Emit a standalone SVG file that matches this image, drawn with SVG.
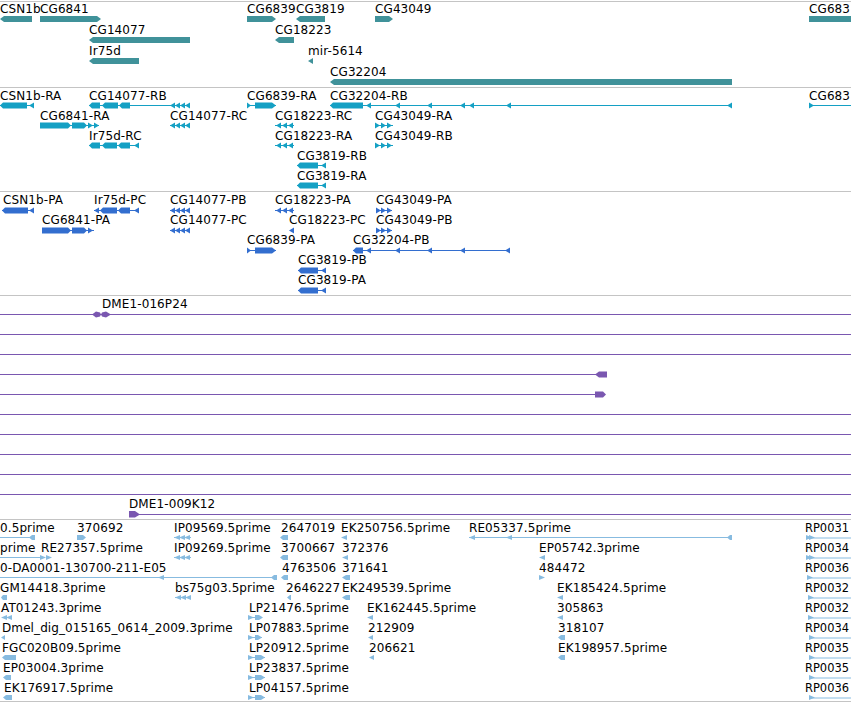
<svg xmlns="http://www.w3.org/2000/svg" xmlns:xlink="http://www.w3.org/1999/xlink" width="851" height="703" viewBox="0 0 851 703">
<style>
text{font-family:"DejaVu Sans",sans-serif;font-size:12px;fill:#000;letter-spacing:0.1px}
text.rp{letter-spacing:0}
.sep{stroke:#c4c4c4;stroke-width:1}
.f1{fill:#40929a}
.f2{fill:#14a0c4}
.l2{stroke:#14a0c4;stroke-width:1}
.f3{fill:#336ecf}
.l3{stroke:#336ecf;stroke-width:1}
.f4{fill:#7a57b0}
.l4{stroke:#7a57b0;stroke-width:1}
.f5{fill:#87bbe0}
.l5{stroke:#87bbe0;stroke-width:1}
</style>
<defs>
<path id="tl" d="M0,3 L5,0 L5,6 Z"/>
<path id="tr" d="M5,3 L0,0 L0,6 Z"/>
<path id="sl" d="M0,2.5 L6,0 L6,5 Z"/>
<path id="sr" d="M6,2.5 L0,0 L0,5 Z"/>
</defs>
<rect width="851" height="703" fill="#fff"/>
<g id="separators">
<line class="sep" x1="0" y1="1.5" x2="851" y2="1.5"/>
<line class="sep" x1="0" y1="87.5" x2="851" y2="87.5"/>
<line class="sep" x1="0" y1="191.5" x2="851" y2="191.5"/>
<line class="sep" x1="0" y1="295.5" x2="851" y2="295.5"/>
<line class="sep" x1="0" y1="519.5" x2="851" y2="519.5"/>
<line class="sep" x1="0" y1="701.5" x2="851" y2="701.5"/>
</g>

<g id="track-genes" class="f1">
<g id="g-CSN1b"><text x="0" y="13">CSN1b</text><polygon points="0,19 4,16 32,16 32,22 4,22"/></g>
<g id="g-CG6841"><text x="40" y="13">CG6841</text><polygon points="40,16 97,16 101,19 97,22 40,22"/></g>
<g id="g-CG6839"><text x="247" y="13">CG6839</text><polygon points="247,16 272,16 276,19 272,22 247,22"/></g>
<g id="g-CG3819"><text x="296" y="13">CG3819</text><polygon points="296,19 300,16 325,16 325,22 300,22"/></g>
<g id="g-CG43049"><text x="375" y="13">CG43049</text><polygon points="375,16 389,16 393,19 389,22 375,22"/></g>
<g id="g-CG683"><text x="809" y="13">CG683</text><rect x="809" y="16" width="42" height="6"/></g>
<g id="g-CG14077"><text x="89" y="34">CG14077</text><polygon points="89,40 93,37 190,37 190,43 93,43"/></g>
<g id="g-CG18223"><text x="275" y="34">CG18223</text><polygon points="275,40 279,37 294,37 294,43 279,43"/></g>
<g id="g-Ir75d"><text x="89" y="55">Ir75d</text><polygon points="89,61 93,58 139,58 139,64 93,64"/></g>
<g id="g-mir5614"><text x="308" y="55">mir-5614</text><polygon points="308,61 313,58 313,64"/></g>
<g id="g-CG32204"><text x="330" y="76">CG32204</text><polygon points="330,82 334,79 732,79 732,85 334,85"/></g>
</g>

<g id="track-transcripts" class="f2">
<g id="t-CSN1b-RA"><text x="0" y="100">CSN1b-RA</text><line class="l2" x1="0" y1="105.5" x2="34" y2="105.5"/><polygon points="0,105.5 3,102.5 27,102.5 27,108.5 3,108.5"/><use xlink:href="#tl" x="29" y="102.5"/></g>
<g id="t-CG14077-RB"><text x="89" y="100">CG14077-RB</text><line class="l2" x1="89" y1="105.5" x2="190" y2="105.5"/><polygon points="89,105.5 92,102.5 100,102.5 100,108.5 92,108.5"/><polygon points="102,105.5 105,102.5 118,102.5 118,108.5 105,108.5"/><polygon points="119,105.5 122,102.5 130,102.5 130,108.5 122,108.5"/><use xlink:href="#tl" x="170" y="102.5"/><use xlink:href="#tl" x="175" y="102.5"/><use xlink:href="#tl" x="180" y="102.5"/><use xlink:href="#tl" x="185" y="102.5"/></g>
<g id="t-CG6839-RA"><text x="247" y="100">CG6839-RA</text><line class="l2" x1="247" y1="105.5" x2="276" y2="105.5"/><polygon points="247,102.5 251,105.5 247,108.5"/><polygon points="255,102.5 272,102.5 276,105.5 272,108.5 255,108.5"/></g>
<g id="t-CG32204-RB"><text x="330" y="100">CG32204-RB</text><line class="l2" x1="330" y1="105.5" x2="732" y2="105.5"/><polygon points="330,105.5 333,102.5 363,102.5 363,108.5 333,108.5"/><use xlink:href="#tl" x="366" y="102.5"/><use xlink:href="#tl" x="395" y="102.5"/><use xlink:href="#tl" x="427" y="102.5"/><use xlink:href="#tl" x="460" y="102.5"/><use xlink:href="#tl" x="469" y="102.5"/><use xlink:href="#tl" x="506" y="102.5"/><use xlink:href="#tl" x="727" y="102.5"/></g>
<g id="t-CG683-R"><text x="809" y="100">CG683</text><line class="l2" x1="809" y1="105.5" x2="851" y2="105.5"/><use xlink:href="#tr" x="809" y="102.5"/></g>

<g id="t-CG6841-RA"><text x="40" y="120">CG6841-RA</text><line class="l2" x1="40" y1="125.5" x2="99" y2="125.5"/><polygon points="40,122.5 68,122.5 71,125.5 68,128.5 40,128.5"/><polygon points="72,122.5 84,122.5 87,125.5 84,128.5 72,128.5"/><use xlink:href="#tr" x="88" y="122.5"/><use xlink:href="#tr" x="94" y="122.5"/></g>
<g id="t-CG14077-RC"><text x="170" y="120">CG14077-RC</text><line class="l2" x1="170" y1="125.5" x2="190" y2="125.5"/><use xlink:href="#tl" x="170" y="122.5"/><use xlink:href="#tl" x="175" y="122.5"/><use xlink:href="#tl" x="180" y="122.5"/><use xlink:href="#tl" x="185" y="122.5"/></g>
<g id="t-CG18223-RC"><text x="275" y="120">CG18223-RC</text><line class="l2" x1="275" y1="125.5" x2="294" y2="125.5"/><use xlink:href="#tl" x="276" y="122.5"/><use xlink:href="#tl" x="282" y="122.5"/><use xlink:href="#tl" x="288" y="122.5"/></g>
<g id="t-CG43049-RA"><text x="375" y="120">CG43049-RA</text><line class="l2" x1="375" y1="125.5" x2="393" y2="125.5"/><use xlink:href="#tr" x="375" y="122.5"/><use xlink:href="#tr" x="381" y="122.5"/><use xlink:href="#tr" x="387" y="122.5"/></g>

<g id="t-Ir75d-RC"><text x="89" y="140">Ir75d-RC</text><line class="l2" x1="89" y1="145.5" x2="139" y2="145.5"/><polygon points="89,145.5 92,142.5 100,142.5 100,148.5 92,148.5"/><polygon points="102,145.5 105,142.5 117,142.5 117,148.5 105,148.5"/><polygon points="118,145.5 121,142.5 130,142.5 130,148.5 121,148.5"/><use xlink:href="#tl" x="134" y="142.5"/></g>
<g id="t-CG18223-RA"><text x="275" y="140">CG18223-RA</text><line class="l2" x1="275" y1="145.5" x2="294" y2="145.5"/><use xlink:href="#tl" x="276" y="142.5"/><use xlink:href="#tl" x="282" y="142.5"/><use xlink:href="#tl" x="288" y="142.5"/></g>
<g id="t-CG43049-RB"><text x="375" y="140">CG43049-RB</text><line class="l2" x1="375" y1="145.5" x2="393" y2="145.5"/><use xlink:href="#tr" x="375" y="142.5"/><use xlink:href="#tr" x="381" y="142.5"/><use xlink:href="#tr" x="387" y="142.5"/></g>

<g id="t-CG3819-RB"><text x="297" y="160">CG3819-RB</text><line class="l2" x1="297" y1="165.5" x2="326" y2="165.5"/><polygon points="297,165.5 300,162.5 318,162.5 318,168.5 300,168.5"/><use xlink:href="#tl" x="321" y="162.5"/></g>
<g id="t-CG3819-RA"><text x="297" y="180">CG3819-RA</text><line class="l2" x1="297" y1="185.5" x2="326" y2="185.5"/><polygon points="297,185.5 300,182.5 318,182.5 318,188.5 300,188.5"/><use xlink:href="#tl" x="321" y="182.5"/></g>
</g>

<g id="track-proteins" class="f3">
<g id="p-CSN1b-PA"><text x="3" y="204">CSN1b-PA</text><line class="l3" x1="2" y1="210.5" x2="34" y2="210.5"/><polygon points="2,210.5 5,207.5 28,207.5 28,213.5 5,213.5"/><use xlink:href="#tl" x="29" y="207.5"/></g>
<g id="p-Ir75d-PC"><text x="94" y="204">Ir75d-PC</text><line class="l3" x1="94" y1="210.5" x2="139" y2="210.5"/><use xlink:href="#tl" x="94" y="207.5"/><polygon points="100,210.5 103,207.5 117,207.5 117,213.5 103,213.5"/><polygon points="118,210.5 121,207.5 130,207.5 130,213.5 121,213.5"/><use xlink:href="#tl" x="134" y="207.5"/></g>
<g id="p-CG14077-PB"><text x="170" y="204">CG14077-PB</text><line class="l3" x1="170" y1="210.5" x2="190" y2="210.5"/><use xlink:href="#tl" x="170" y="207.5"/><use xlink:href="#tl" x="175" y="207.5"/><use xlink:href="#tl" x="180" y="207.5"/><use xlink:href="#tl" x="185" y="207.5"/></g>
<g id="p-CG18223-PA"><text x="275" y="204">CG18223-PA</text><line class="l3" x1="275" y1="210.5" x2="294" y2="210.5"/><use xlink:href="#tl" x="276" y="207.5"/><use xlink:href="#tl" x="282" y="207.5"/><use xlink:href="#tl" x="288" y="207.5"/></g>
<g id="p-CG43049-PA"><text x="376" y="204">CG43049-PA</text><line class="l3" x1="376" y1="210.5" x2="392" y2="210.5"/><use xlink:href="#tr" x="376" y="207.5"/><use xlink:href="#tr" x="381" y="207.5"/><use xlink:href="#tr" x="387" y="207.5"/></g>

<g id="p-CG6841-PA"><text x="42" y="224">CG6841-PA</text><line class="l3" x1="42" y1="230.5" x2="94" y2="230.5"/><polygon points="42,227.5 68,227.5 71,230.5 68,233.5 42,233.5"/><polygon points="72,227.5 84,227.5 87,230.5 84,233.5 72,233.5"/><use xlink:href="#tr" x="88" y="227.5"/></g>
<g id="p-CG14077-PC"><text x="170" y="224">CG14077-PC</text><line class="l3" x1="170" y1="230.5" x2="190" y2="230.5"/><use xlink:href="#tl" x="170" y="227.5"/><use xlink:href="#tl" x="175" y="227.5"/><use xlink:href="#tl" x="180" y="227.5"/><use xlink:href="#tl" x="185" y="227.5"/></g>
<g id="p-CG18223-PC"><text x="289" y="224">CG18223-PC</text><use xlink:href="#tl" x="289" y="227.5"/></g>
<g id="p-CG43049-PB"><text x="376" y="224">CG43049-PB</text><line class="l3" x1="376" y1="230.5" x2="392" y2="230.5"/><use xlink:href="#tr" x="376" y="227.5"/><use xlink:href="#tr" x="381" y="227.5"/><use xlink:href="#tr" x="387" y="227.5"/></g>

<g id="p-CG6839-PA"><text x="247" y="244">CG6839-PA</text><line class="l3" x1="247" y1="250.5" x2="276" y2="250.5"/><polygon points="247,247.5 251,250.5 247,253.5"/><polygon points="255,247.5 272,247.5 276,250.5 272,253.5 255,253.5"/></g>
<g id="p-CG32204-PB"><text x="353" y="244">CG32204-PB</text><line class="l3" x1="353" y1="250.5" x2="510" y2="250.5"/><polygon points="353,250.5 356,247.5 363,247.5 363,253.5 356,253.5"/><use xlink:href="#tl" x="366" y="247.5"/><use xlink:href="#tl" x="395" y="247.5"/><use xlink:href="#tl" x="427" y="247.5"/><use xlink:href="#tl" x="460" y="247.5"/><use xlink:href="#tl" x="505" y="247.5"/></g>

<g id="p-CG3819-PB"><text x="298" y="264">CG3819-PB</text><line class="l3" x1="298" y1="270.5" x2="326" y2="270.5"/><polygon points="298,270.5 301,267.5 318,267.5 318,273.5 301,273.5"/><use xlink:href="#tl" x="321" y="267.5"/></g>
<g id="p-CG3819-PA"><text x="298" y="284">CG3819-PA</text><line class="l3" x1="298" y1="290.5" x2="326" y2="290.5"/><polygon points="298,290.5 301,287.5 318,287.5 318,293.5 301,293.5"/><use xlink:href="#tl" x="321" y="287.5"/></g>
</g>

<g id="track-clones" class="f4">
<g id="c-DME1-016P24"><text x="102" y="307.5">DME1-016P24</text><line class="l4" x1="0" y1="314.5" x2="851" y2="314.5"/><polygon points="92,314.5 96,311.5 100,312.5 101,314.5 100,316.5 96,317.5"/><polygon points="101,314.5 102,312.5 106,311.5 111,314.5 106,317.5 102,316.5"/></g>
<g id="c-row2"><line class="l4" x1="0" y1="334.5" x2="851" y2="334.5"/></g>
<g id="c-row3"><line class="l4" x1="0" y1="354.5" x2="851" y2="354.5"/></g>
<g id="c-row4"><line class="l4" x1="0" y1="374.5" x2="598" y2="374.5"/><polygon points="595,374.5 599,371.5 607,371.5 607,377.5 599,377.5"/></g>
<g id="c-row5"><line class="l4" x1="0" y1="394.5" x2="598" y2="394.5"/><polygon points="595,391.5 603,391.5 606,394.5 603,397.5 595,397.5"/></g>
<g id="c-row6"><line class="l4" x1="0" y1="414.5" x2="851" y2="414.5"/></g>
<g id="c-row7"><line class="l4" x1="0" y1="434.5" x2="851" y2="434.5"/></g>
<g id="c-row8"><line class="l4" x1="0" y1="454.5" x2="851" y2="454.5"/></g>
<g id="c-row9"><line class="l4" x1="0" y1="474.5" x2="851" y2="474.5"/></g>
<g id="c-row10"><line class="l4" x1="0" y1="494.5" x2="851" y2="494.5"/></g>
<g id="c-DME1-009K12"><text x="129" y="507.5">DME1-009K12</text><line class="l4" x1="135" y1="514.5" x2="851" y2="514.5"/><polygon points="129,511 135,511 140,514.5 135,517.5 129,517.5"/></g>
</g>

<g id="track-ests" class="f5">
<g id="e-0.5prime"><text x="0" y="532">0.5prime</text><line class="l5" x1="0" y1="537.5" x2="30" y2="537.5"/><polygon points="29,537.5 32,535 35,535 35,540 32,540"/></g>
<g id="e-370692"><text x="77" y="532">370692</text><polygon points="77,535 83,535 86,537.5 83,540 77,540"/></g>
<g id="e-IP09569"><text x="174" y="532">IP09569.5prime</text><line class="l5" x1="174" y1="537.5" x2="191" y2="537.5"/><use xlink:href="#sl" x="174" y="535"/><use xlink:href="#sl" x="179" y="535"/><use xlink:href="#sl" x="184" y="535"/></g>
<g id="e-2647019"><text x="281" y="532">2647019</text><polygon points="280,537.5 283,535 288,535 288,540 283,540"/></g>
<g id="e-EK250756"><text x="341" y="532">EK250756.5prime</text><use xlink:href="#sl" x="341" y="535"/></g>
<g id="e-RE05337"><text x="469" y="532">RE05337.5prime</text><line class="l5" x1="469" y1="537.5" x2="732" y2="537.5"/><use xlink:href="#sl" x="469" y="535"/><use xlink:href="#sl" x="506" y="535"/><polygon points="727,537.5 730,535 732,535 732,540 730,540"/></g>
<g id="e-RP0031"><text class="rp" x="805" y="532" textLength="44" lengthAdjust="spacingAndGlyphs">RP0031</text><line class="l5" x1="806" y1="538" x2="851" y2="538"/><use xlink:href="#sr" x="806" y="535"/><use xlink:href="#sr" x="809" y="535"/></g>

<g id="e-prime"><text x="0" y="552">prime</text><line class="l5" x1="0" y1="557.5" x2="44" y2="557.5"/><use xlink:href="#sr" x="40" y="555"/><use xlink:href="#sr" x="46" y="555"/></g>
<g id="e-RE27357"><text x="41" y="552">RE27357.5prime</text></g>
<g id="e-IP09269"><text x="174" y="552">IP09269.5prime</text><line class="l5" x1="174" y1="557.5" x2="191" y2="557.5"/><use xlink:href="#sl" x="174" y="555"/><use xlink:href="#sl" x="179" y="555"/><use xlink:href="#sl" x="184" y="555"/></g>
<g id="e-3700667"><text x="281" y="552">3700667</text><polygon points="280,557.5 283,555 288,555 288,560 283,560"/></g>
<g id="e-372376"><text x="342" y="552">372376</text><use xlink:href="#sl" x="342" y="555"/></g>
<g id="e-EP05742"><text x="539" y="552">EP05742.3prime</text><use xlink:href="#sl" x="539" y="555"/></g>
<g id="e-RP0034a"><text class="rp" x="805" y="552" textLength="44" lengthAdjust="spacingAndGlyphs">RP0034</text><line class="l5" x1="806" y1="558" x2="851" y2="558"/><use xlink:href="#sr" x="806" y="555"/><use xlink:href="#sr" x="809" y="555"/></g>

<g id="e-DA0001"><text x="0" y="572">0-DA0001-130700-211-E05</text><line class="l5" x1="0" y1="577.5" x2="276" y2="577.5"/><use xlink:href="#sl" x="158" y="575"/><polygon points="271,577.5 274,575 277,575 277,580 274,580"/></g>
<g id="e-4763506"><text x="282" y="572">4763506</text><polygon points="281,577.5 284,575 288,575 288,580 284,580"/></g>
<g id="e-371641"><text x="342" y="572">371641</text><polygon points="342,577.5 346,575 350,575 350,580 346,580"/></g>
<g id="e-484472"><text x="539" y="572">484472</text><use xlink:href="#sr" x="539" y="575"/></g>
<g id="e-RP0036a"><text class="rp" x="805" y="572" textLength="44" lengthAdjust="spacingAndGlyphs">RP0036</text><line class="l5" x1="807" y1="578" x2="851" y2="578"/><use xlink:href="#sr" x="807" y="575"/></g>

<g id="e-GM14418"><text x="0" y="592">GM14418.3prime</text><polygon points="1,597.5 3,595 7,595 7,600 3,600"/></g>
<g id="e-bs75g03"><text x="175" y="592">bs75g03.5prime</text><line class="l5" x1="175" y1="597.5" x2="191" y2="597.5"/><use xlink:href="#sl" x="175" y="595"/><use xlink:href="#sl" x="180" y="595"/><use xlink:href="#sl" x="185" y="595"/></g>
<g id="e-2646227"><text x="286" y="592">2646227</text><polygon points="287,597.5 290,595 291,595 291,600 290,600"/></g>
<g id="e-EK249539"><text x="342" y="592">EK249539.5prime</text><polygon points="342,597.5 346,595 350,595 350,600 346,600"/></g>
<g id="e-EK185424"><text x="557" y="592">EK185424.5prime</text><use xlink:href="#sl" x="557" y="595"/></g>
<g id="e-RP0032a"><text class="rp" x="805" y="592" textLength="44" lengthAdjust="spacingAndGlyphs">RP0032</text><line class="l5" x1="808" y1="598" x2="851" y2="598"/><use xlink:href="#sr" x="808" y="595"/></g>

<g id="e-AT01243"><text x="1" y="612">AT01243.3prime</text><use xlink:href="#sl" x="1" y="615"/><use xlink:href="#sl" x="6" y="615"/></g>
<g id="e-LP21476"><text x="249" y="612">LP21476.5prime</text><line class="l5" x1="248" y1="617.5" x2="262" y2="617.5"/><use xlink:href="#sr" x="248" y="615"/><polygon points="255,615 259,615 263,617.5 259,620 255,620"/></g>
<g id="e-EK162445"><text x="367" y="612">EK162445.5prime</text><use xlink:href="#sl" x="367" y="615"/></g>
<g id="e-305863"><text x="557" y="612">305863</text><use xlink:href="#sl" x="557" y="615"/></g>
<g id="e-RP0032b"><text class="rp" x="805" y="612" textLength="44" lengthAdjust="spacingAndGlyphs">RP0032</text><line class="l5" x1="808" y1="618" x2="851" y2="618"/><use xlink:href="#sr" x="808" y="615"/></g>

<g id="e-Dmel-dig"><text x="2" y="632">Dmel_dig_015165_0614_2009.3prime</text><polygon points="1,637.5 5,635 5,640"/></g>
<g id="e-LP07883"><text x="249" y="632">LP07883.5prime</text><line class="l5" x1="248" y1="637.5" x2="262" y2="637.5"/><use xlink:href="#sr" x="248" y="635"/><polygon points="255,635 258,635 262,637.5 258,640 255,640"/></g>
<g id="e-212909"><text x="368" y="632">212909</text><polygon points="368,637.5 373,635 373,640"/></g>
<g id="e-318107"><text x="558" y="632">318107</text><polygon points="558,637.5 561,635 565,635 565,640 561,640"/></g>
<g id="e-RP0034b"><text class="rp" x="805" y="632" textLength="44" lengthAdjust="spacingAndGlyphs">RP0034</text><line class="l5" x1="809" y1="638" x2="851" y2="638"/><use xlink:href="#sr" x="809" y="635"/></g>

<g id="e-FGC020B09"><text x="2" y="652">FGC020B09.5prime</text><polygon points="2,657.5 5,655 16,655 16,660 5,660"/></g>
<g id="e-LP20912"><text x="249" y="652">LP20912.5prime</text><line class="l5" x1="248" y1="657.5" x2="265" y2="657.5"/><use xlink:href="#sr" x="248" y="655"/><polygon points="255,655 261,655 265,657.5 261,660 255,660"/></g>
<g id="e-206621"><text x="369" y="652">206621</text><polygon points="369,657.5 374,655 374,660"/></g>
<g id="e-EK198957"><text x="558" y="652">EK198957.5prime</text><polygon points="558,657.5 561,655 565,655 565,660 561,660"/></g>
<g id="e-RP0035a"><text class="rp" x="805" y="652" textLength="44" lengthAdjust="spacingAndGlyphs">RP0035</text><line class="l5" x1="809" y1="658" x2="851" y2="658"/><use xlink:href="#sr" x="809" y="655"/></g>

<g id="e-EP03004"><text x="3" y="672">EP03004.3prime</text><polygon points="3,677.5 6,675 11,675 11,680 6,680"/></g>
<g id="e-LP23837"><text x="249" y="672">LP23837.5prime</text><line class="l5" x1="248" y1="677.5" x2="265" y2="677.5"/><use xlink:href="#sr" x="248" y="675"/><polygon points="255,675 261,675 265,677.5 261,680 255,680"/></g>
<g id="e-RP0035b"><text class="rp" x="805" y="672" textLength="44" lengthAdjust="spacingAndGlyphs">RP0035</text><line class="l5" x1="809" y1="678" x2="851" y2="678"/><use xlink:href="#sr" x="809" y="675"/></g>

<g id="e-EK176917"><text x="4" y="692">EK176917.5prime</text><polygon points="3,697.5 6,695 12,695 12,700 6,700"/></g>
<g id="e-LP04157"><text x="249" y="692">LP04157.5prime</text><line class="l5" x1="248" y1="697.5" x2="265" y2="697.5"/><use xlink:href="#sr" x="248" y="695"/><polygon points="255,695 261,695 265,697.5 261,700 255,700"/></g>
<g id="e-RP0036b"><text class="rp" x="805" y="692" textLength="44" lengthAdjust="spacingAndGlyphs">RP0036</text><line class="l5" x1="809" y1="698" x2="851" y2="698"/><use xlink:href="#sr" x="809" y="695"/></g>
</g>
</svg>
